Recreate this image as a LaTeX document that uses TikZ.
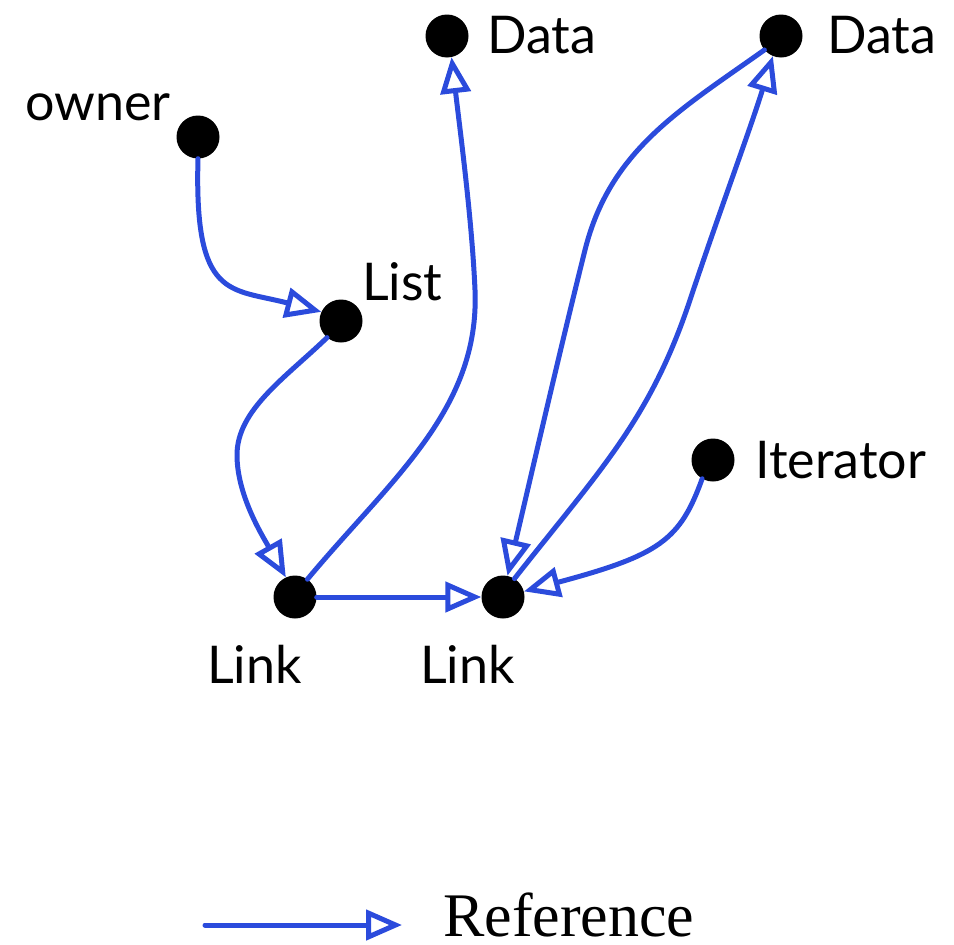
\documentclass[tikz,border=0pt]{standalone}
\usepackage{fontspec}
\setmainfont{Lato}
\newfontfamily\reffont{Liberation Serif}
\usetikzlibrary{arrows.meta}
\definecolor{refblue}{RGB}{43,75,220}
\tikzset{
  dot/.style={circle, fill=black, minimum size=43pt, inner sep=0pt},
  lbl/.style={anchor=base west, inner sep=0pt, font=\fontsize{52}{60}\selectfont},
  refarrow/.style={draw=refblue, line width=5pt, line cap=round,
    -{Triangle[open, length=36pt, width=30pt]}}
}
\begin{document}
\begin{tikzpicture}[x=1pt,y=-1pt]
\useasboundingbox (0,0) rectangle (954,945);
% dots
\node[dot] (own) at (198,137) {};
\node[dot] (list) at (341,321) {};
\node[dot] (l1) at (295,597) {};
\node[dot] (l2) at (503,597) {};
\node[dot] (d1) at (447,36) {};
\node[dot] (d2) at (781,36) {};
\node[dot] (it) at (713,460) {};
% labels
\node[lbl] (ownl) at (25,120) {owner};
\node[lbl] (listl) at (362,300) {List};
\node[lbl] (l1l) at (207,683) {Link};
\node[lbl] (l2l) at (420,683) {Link};
\node[lbl] (d1l) at (487,53) {Data};
\node[lbl] (d2l) at (827,53) {Data};
\node[lbl] (itl) at (755,478) {Iterator};
% connectors
\draw[refarrow] (own.-90) .. controls (194,300) and (230,288) .. (list.155);
\draw[refarrow] (list.-130) .. controls (285,378) and (237,410) .. (237,455) .. controls (237,495) and (262,535) .. (l1.115);
\draw[refarrow] (l1.55) .. controls (390,480) and (480,410) .. (475,290) .. controls (472,220) and (460,130) .. (d1.-78);
\draw[refarrow] (l1.east) -- (l2.west);
\draw[refarrow] (d2.-140) .. controls (680,110) and (610,150) .. (585,250) .. controls (560,350) and (530,480) .. (l2.78);
\draw[refarrow] (l2.58) .. controls (600,470) and (650,420) .. (690,300) .. controls (720,210) and (750,130) .. (d2.-112);
\draw[refarrow] (it.-120) .. controls (680,540) and (660,555) .. (l2.15);
% legend
\coordinate (lga) at (205,925);
\coordinate (lgb) at (402,925);
\draw[refarrow] (lga) -- (lgb);
\node[anchor=base west, inner sep=0pt, font=\reffont\fontsize{62}{70}\selectfont] (refl) at (443,936) {Reference};
\end{tikzpicture}
\end{document}
